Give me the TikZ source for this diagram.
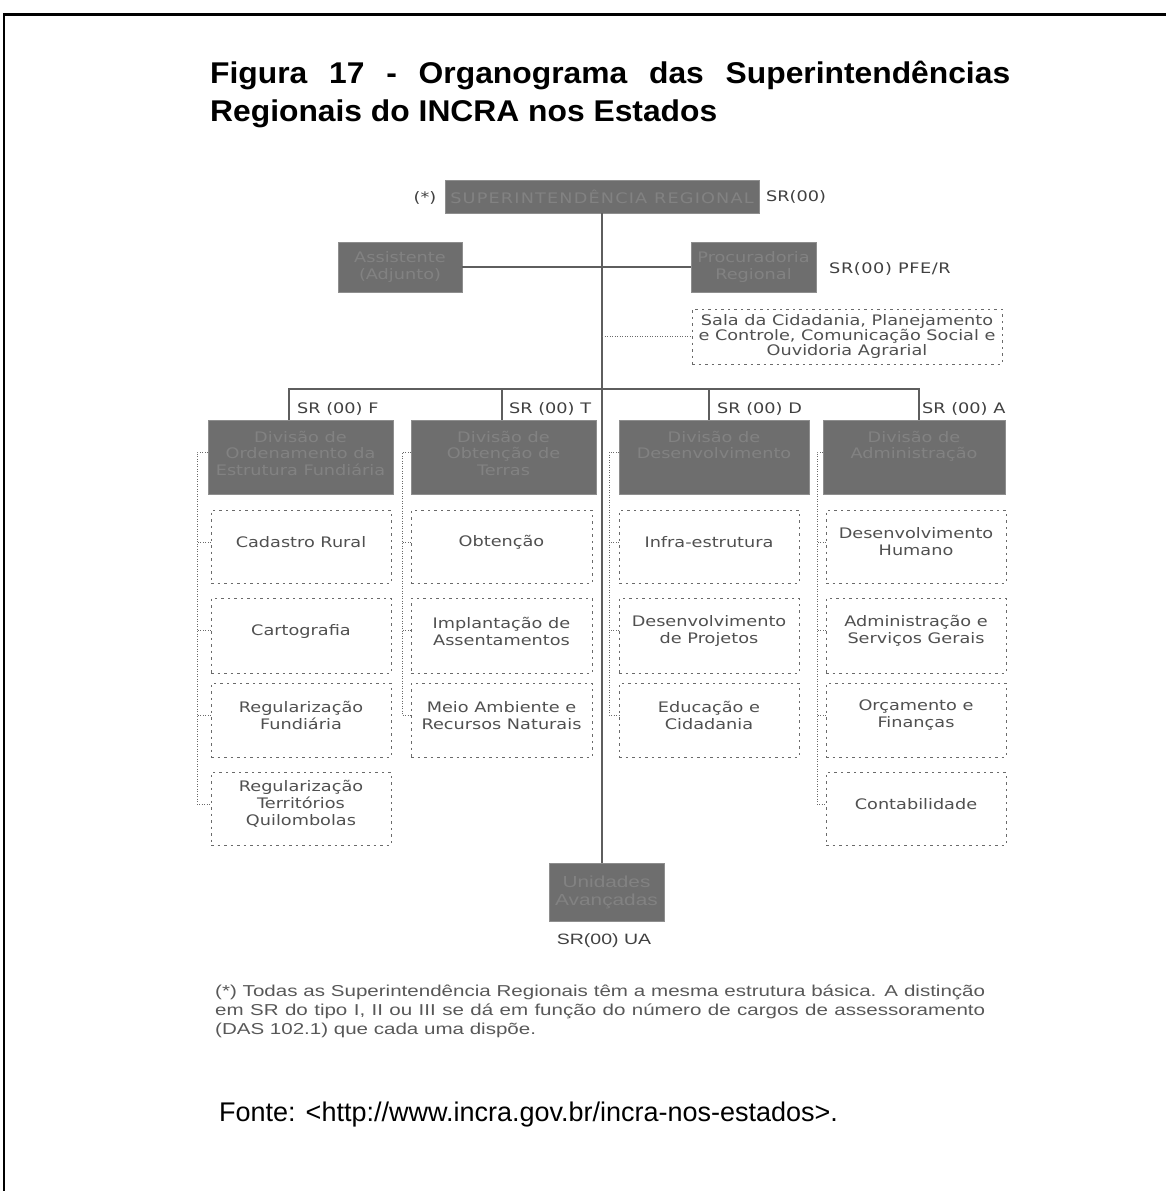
\documentclass[tikz,border=0pt]{standalone}
\usepackage{fontspec}
\usetikzlibrary{calc}
\newfontfamily\diagfont{DejaVu Sans}[FakeStretch=1.22]
\newfontfamily\titlefont{Liberation Sans}[FakeStretch=1.06]
\newfontfamily\notefont{Liberation Sans}[FakeStretch=1.3]
\newfontfamily\fontefont{Liberation Sans}
\definecolor{boxfill}{HTML}{6E6E6E}
\definecolor{boxedge}{HTML}{8E8E8E}
\definecolor{boxtext}{HTML}{828282}
\definecolor{conncol}{HTML}{5E5E5E}
\definecolor{dotcol}{HTML}{6A6A6A}
\definecolor{subtext}{HTML}{505050}
\definecolor{labcol}{HTML}{404040}
\definecolor{notecol}{HTML}{585858}
\newcommand{\bxc}[3]{\parbox[c][#2][c]{#1}{\centering #3}}
\newcommand{\bxt}[3]{\parbox[c][#2][t]{#1}{\centering\rule{0pt}{22pt}#3}}
\newcommand{\bxs}[3]{\parbox[c][#2][c]{#1}{\centering #3\par\vspace{9pt}}}
\tikzset{
  darkbox/.style={draw=boxedge, fill=boxfill, line width=1pt, inner sep=0pt, outer sep=0pt,
    anchor=north west, text=boxtext, font=\diagfont\fontsize{14.5}{16.5}\selectfont},
  subbox/.style={draw=dotcol, dash pattern=on 2.5pt off 4pt, line width=1pt, inner sep=0pt,
    outer sep=0pt, anchor=north west, text=subtext, font=\diagfont\fontsize{14.5}{17}\selectfont},
  conn/.style={draw=conncol, line width=1.5pt},
  dotconn/.style={draw=dotcol, line width=1pt, dash pattern=on 1pt off 1.5pt},
  lab/.style={inner sep=0pt, text=labcol, font=\diagfont\fontsize{14.5}{17}\selectfont},
}
\begin{document}
\begin{tikzpicture}[x=1pt,y=-1pt]
\useasboundingbox (0,0) rectangle (1166,1191);
% frame
\draw[line width=3pt] (4,14) -- (1170,14);
\draw[line width=2pt] (4,13) -- (4,1195);
% title
\node[anchor=base west, inner sep=0pt, font=\titlefont\bfseries\fontsize{30}{36}\selectfont] (t1) at (210,83)
  {\makebox[800pt][s]{Figura 17 - Organograma das Superintendências}};
\node[anchor=base west, inner sep=0pt, font=\titlefont\bfseries\fontsize{30}{36}\selectfont] (t2) at (210,121)
  {Regionais do INCRA nos Estados};
% top
\node[darkbox] (sr) at (445,180) {\bxc{314pt}{33pt}{\addfontfeature{LetterSpace=8}SUPERINTENDÊNCIA REGIONAL}};
\node[lab] (star) at (425,198) {(*)};
\node[lab, anchor=west] (srl) at (766,197) {SR(00)};
\node[darkbox] (as) at (338,242) {\bxc{124pt}{50pt}{Assistente\\(Adjunto)}};
\node[darkbox] (pr) at (691,242) {\bxc{125pt}{50pt}{Procuradoria\\Regional}};
\node[lab, anchor=west] (prl) at (829,269) {\addfontfeature{LetterSpace=4}SR(00) PFE/R};
\node[subbox, font=\diagfont\fontsize{14.5}{15}\selectfont] (sala) at (692,309)
  {\bxc{310pt}{55pt}{Sala da Cidadania, Planejamento\\e Controle, Comunicação Social e\\Ouvidoria Agrarial}};
% divisions
\node[darkbox] (d1) at (208,420) {\bxt{185pt}{74pt}{Divisão de\\Ordenamento da\\Estrutura Fundiária}};
\node[darkbox] (d2) at (411,420) {\bxt{185pt}{74pt}{Divisão de\\Obtenção de\\Terras}};
\node[darkbox] (d3) at (619,420) {\bxt{190pt}{74pt}{Divisão de\\Desenvolvimento}};
\node[darkbox] (d4) at (823,420) {\bxt{182pt}{74pt}{Divisão de\\Administração}};
\node[lab, anchor=west] (lf) at (297,409) {SR (00) F};
\node[lab, anchor=west] (lt) at (509,409) {SR (00) T};
\node[lab, anchor=west] (ld) at (717,409) {SR (00) D};
\node[lab, anchor=west] (la) at (922,409) {SR (00) A};
% sub boxes column 1
\node[subbox] (s11) at (211,510) {\bxs{180pt}{73pt}{Cadastro Rural}};
\node[subbox] (s12) at (211,598) {\bxs{180pt}{75pt}{Cartografia}};
\node[subbox] (s13) at (211,683) {\bxs{180pt}{74pt}{Regularização\\Fundiária}};
\node[subbox] (s14) at (211,772) {\bxs{180pt}{73pt}{Regularização\\Territórios\\Quilombolas}};
% column 2
\node[subbox] (s21) at (411,510) {\bxs{181pt}{73pt}{Obtenção}};
\node[subbox] (s22) at (411,598) {\bxs{181pt}{75pt}{Implantação de\\Assentamentos}};
\node[subbox] (s23) at (411,683) {\bxs{181pt}{74pt}{Meio Ambiente e\\Recursos Naturais}};
% column 3
\node[subbox] (s31) at (619,510) {\bxs{180pt}{73pt}{Infra-estrutura}};
\node[subbox] (s32) at (619,598) {\bxs{180pt}{75pt}{Desenvolvimento\\de Projetos}};
\node[subbox] (s33) at (619,683) {\bxs{180pt}{74pt}{Educação e\\Cidadania}};
% column 4
\node[subbox] (s41) at (826,510) {\bxs{180pt}{73pt}{Desenvolvimento\\Humano}};
\node[subbox] (s42) at (826,598) {\bxs{180pt}{75pt}{Administração e\\Serviços Gerais}};
\node[subbox] (s43) at (826,683) {\bxs{180pt}{74pt}{Orçamento e\\Finanças}};
\node[subbox] (s44) at (826,772) {\bxs{180pt}{73pt}{Contabilidade}};
% bottom
\node[darkbox, font=\notefont\fontsize{16}{18}\selectfont] (ua) at (549,863) {\bxc{115pt}{58pt}{Unidades\\Avançadas}};
\node[inner sep=0pt, text=labcol, font=\notefont\fontsize{15}{18}\selectfont] (ual) at (604,941) {SR(00) UA};
% connectors
\draw[conn] (sr.south) -- (sr.south |- ua.north);
\draw[conn] (as.east) -- (pr.west);
\draw[dotconn] (sala.west -| sr.south) -- (sala.west);
\coordinate (b1) at (289,389);
\coordinate (b2) at (502,389);
\coordinate (b3) at (709,389);
\coordinate (b4) at (919,389);
\draw[conn] (b1 |- d1.north) -- (b1) -- (b4) -- (b4 |- d4.north);
\draw[conn] (b2) -- (b2 |- d2.north);
\draw[conn] (b3) -- (b3 |- d3.north);
% dotted rails
\draw[dotconn] ([yshift=-32pt]d1.north west) -- ++(-11,0) |- ([yshift=-32pt]s14.north west);
\foreach \s in {s11,s12,s13} \draw[dotconn] ([yshift=-32pt]\s.north west) -- ++(-14,0);
\draw[dotconn] ([yshift=-32pt]d2.north west) -- ++(-9,0) |- ([yshift=-32pt]s23.north west);
\foreach \s in {s21,s22} \draw[dotconn] ([yshift=-32pt]\s.north west) -- ++(-9,0);
\draw[dotconn] ([yshift=-32pt]d3.north west) -- ++(-10,0) |- ([yshift=-32pt]s33.north west);
\foreach \s in {s31,s32} \draw[dotconn] ([yshift=-32pt]\s.north west) -- ++(-10,0);
\draw[dotconn] ([yshift=-32pt]d4.north west) -- ++(-6,0) |- ([yshift=-32pt]s44.north west);
\foreach \s in {s41,s42,s43} \draw[dotconn] ([yshift=-32pt]\s.north west) -- ++(-9,0);
% note
\node[anchor=base west, inner sep=0pt, text=notecol, font=\notefont\fontsize{15.8}{19}\selectfont] (n1) at (215,996)
  {\makebox[770pt][s]{(*) Todas as Superintendência Regionais têm a mesma estrutura básica. A distinção}};
\node[anchor=base west, inner sep=0pt, text=notecol, font=\notefont\fontsize{15.8}{19}\selectfont] (n2) at (215,1015)
  {\makebox[770pt][s]{em SR do tipo I, II ou III se dá em função do número de cargos de assessoramento}};
\node[anchor=base west, inner sep=0pt, text=notecol, font=\notefont\fontsize{15.8}{19}\selectfont] (n3) at (215,1034)
  {(DAS 102.1) que cada uma dispõe.};
\node[anchor=base west, inner sep=0pt, font=\fontefont\fontsize{27}{30}\selectfont] (fonte) at (219,1121)
  {Fonte: <http://www.incra.gov.br/incra-nos-estados>.};
\end{tikzpicture}
\end{document}
